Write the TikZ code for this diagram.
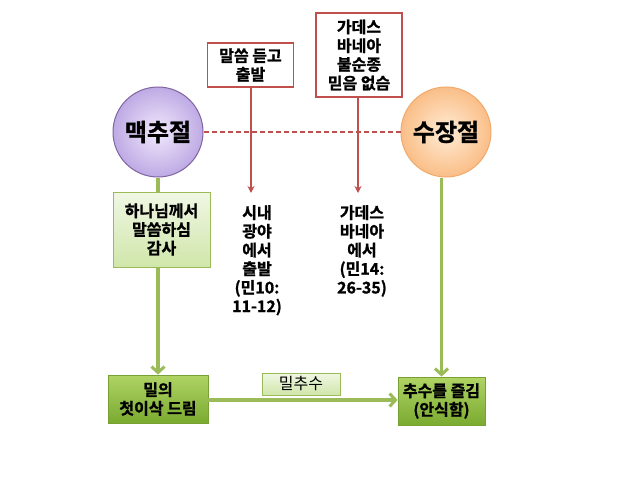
\documentclass[tikz,border=0pt]{standalone}
\usepackage{fontspec}
\setmainfont{Noto Sans CJK KR}[BoldFont={Noto Sans CJK KR Bold}, BoldFeatures={FakeBold=1.2}]
\usetikzlibrary{arrows.meta}
\definecolor{dred}{RGB}{192,80,77}
\definecolor{gline}{RGB}{155,187,89}
\definecolor{pedge}{RGB}{128,100,162}
\definecolor{oedge}{RGB}{240,170,110}
\begin{document}
\begin{tikzpicture}[x=1pt,y=-1pt,
  ktext/.style={font=\bfseries\fontsize{16}{18.7}\selectfont, align=center, inner sep=0},
  redbox/.style={ktext, draw=dred, line width=1.8pt, fill=white},
  lgbox/.style={ktext, draw=gline, line width=1pt, top color={rgb,255:red,240;green,247;blue,228}, bottom color={rgb,255:red,208;green,230;blue,170}},
  dgbox/.style={ktext, draw={rgb,255:red,120;green,160;blue,50}, line width=0.8pt, top color={rgb,255:red,175;green,212;blue,100}, bottom color={rgb,255:red,122;green,170;blue,48}},
  fest/.style={circle, minimum size=90pt, inner sep=0, font=\bfseries\fontsize{24}{28}\selectfont, line width=1pt},
  redarr/.style={draw=dred, line width=1.8pt, -{Stealth[length=7pt,width=7pt]}},
  garr/.style={draw=gline, line width=3.5pt, -{Straight Barb[length=6pt,width=13pt,line width=3pt]}},
  gline/.style={draw=gline, line width=3.5pt}
]
\useasboundingbox (0,0) rectangle (638,479);

\node[fest, draw=pedge, inner color={rgb,255:red,240;green,232;blue,252}, outer color={rgb,255:red,190;green,170;blue,228}] (mc) at (158,132) {맥추절};
\node[fest, draw=oedge, inner color={rgb,255:red,255;green,236;blue,214}, outer color={rgb,255:red,250;green,190;blue,135}] (sj) at (446,132) {수장절};

\draw[dred, line width=1.6pt, dash pattern=on 5pt off 3pt] (mc.east) -- (sj.west);

\node[redbox, minimum width=86pt, minimum height=44pt] (b1) at (250.5,65) {말씀 듣고\\출발};
\node[redbox, minimum width=86pt, minimum height=84pt] (b2) at (359,55) {가데스\\바네아\\불순종\\믿음 없슴};

\coordinate (e1) at (251,193);
\coordinate (e2) at (358,193);
\draw[redarr] (b1.south -| e1) -- (e1);
\draw[redarr] (b2.south -| e2) -- (e2);

\node[ktext, anchor=north] (t1) at (257,205) {시내\\광야\\에서\\출발\\(민10:\\11-12)};
\node[ktext, anchor=north] (t2) at (362,205) {가데스\\바네아\\에서\\(민14:\\26-35)};

\node[lgbox, minimum width=97pt, minimum height=75pt] (g1) at (161.5,229.5) {하나님께서\\말씀하심\\감사};

\node[dgbox, minimum width=100pt, minimum height=48pt] (w1) at (158,399) {밀의\\첫이삭 드림};
\node[dgbox, minimum width=87pt, minimum height=48pt] (w2) at (441.5,401) {추수를 즐김\\(안식함)};

\draw[gline] (mc.south) -- (mc.south |- g1.north);
\draw[garr] (g1.south -| mc.south) -- (mc.south |- w1.north);
\draw[garr] (sj.south -| w2.north) -- (w2.north);
\draw[garr] (w1.east |- 0,400) -- (w2.west |- 0,400);

\node[lgbox, font=\fontsize{16}{18}\selectfont, minimum width=78pt, minimum height=22pt] (lb) at (301,384) {밀추수};
\end{tikzpicture}
\end{document}
